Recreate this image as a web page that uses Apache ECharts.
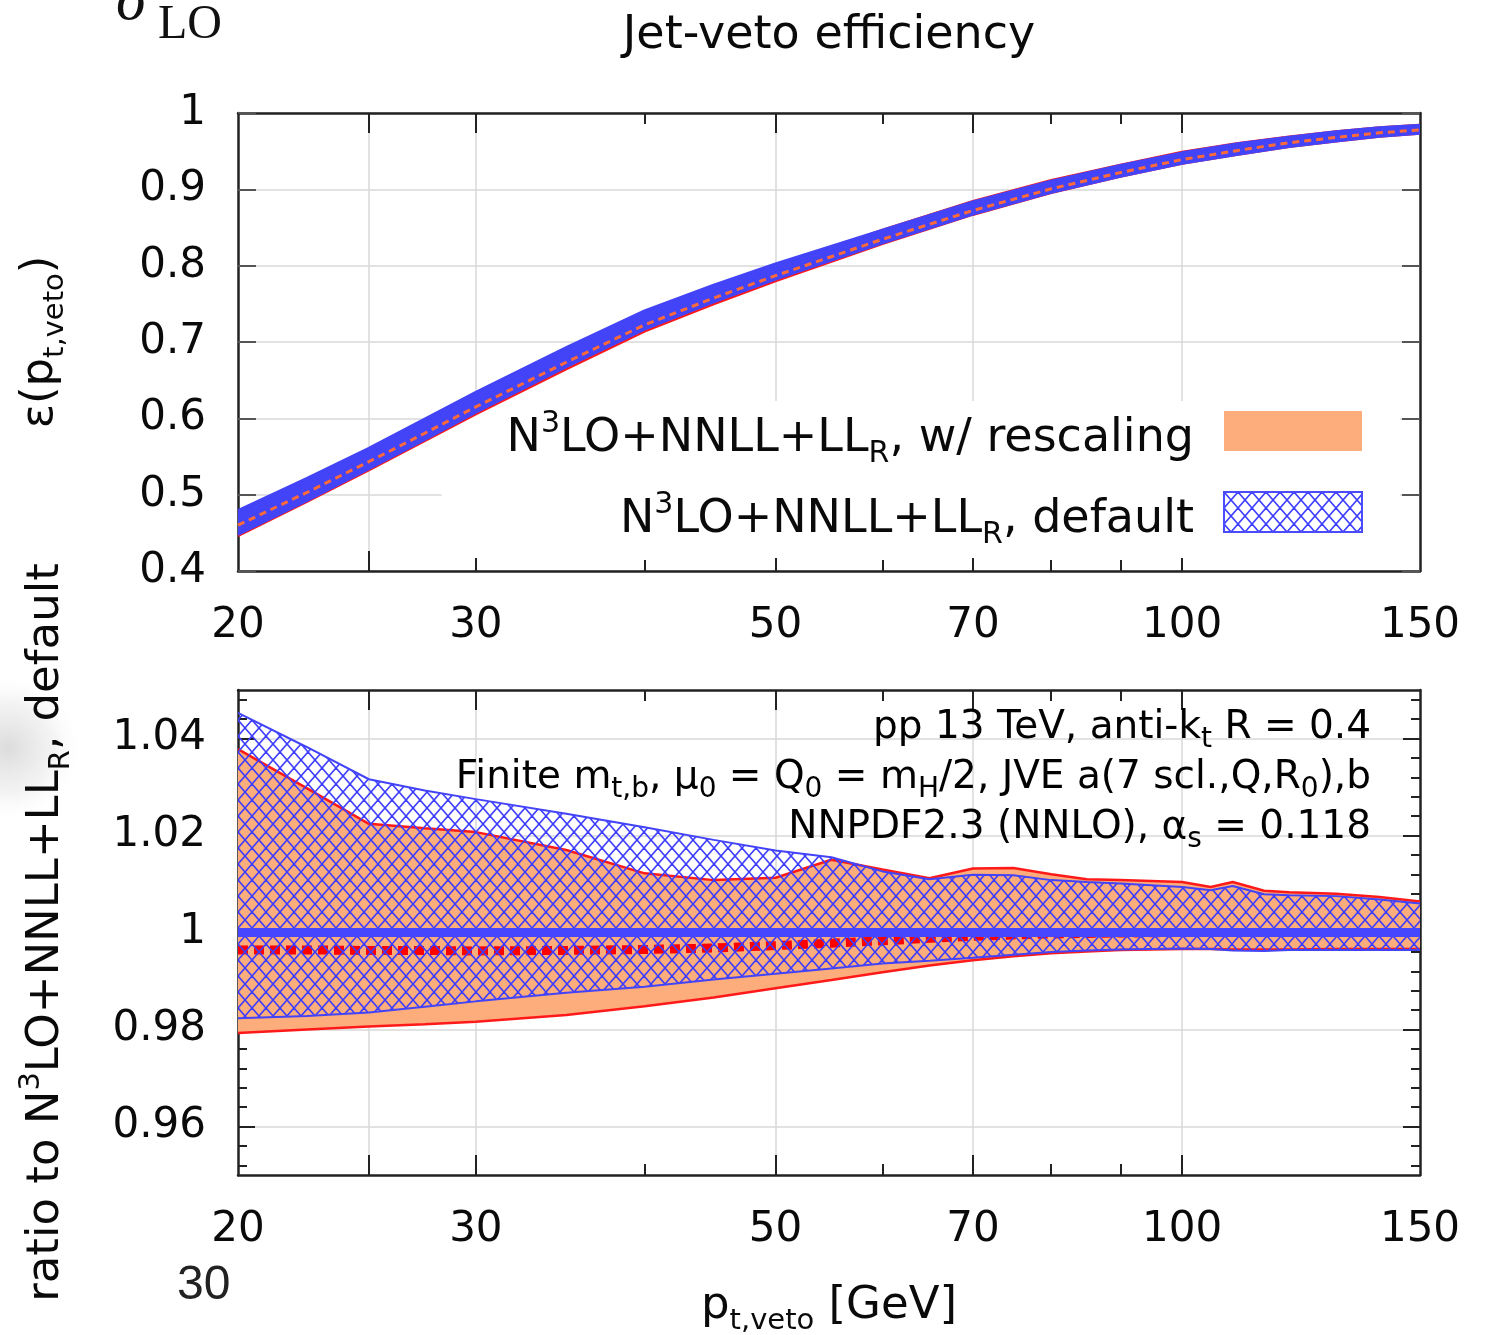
<!DOCTYPE html>
<html>
<head>
<meta charset="utf-8">
<script src="https://cdn.jsdelivr.net/npm/echarts@6/dist/echarts.min.js"></script>
<style>
  html, body { margin: 0; padding: 0; background: #ffffff; }
  #chart { width: 1498px; height: 1335px; }
</style>
</head>
<body>
<div id="chart"></div>
<script>
// ---- jet-veto efficiency, upper panel (pt,veto in GeV) ----
const ptEff = [20, 22.5, 25, 27.5, 30, 35, 40, 45, 50, 60, 70, 80, 90, 100, 110, 120, 130, 140, 150];
const effDefLow = [0.4480, 0.4925, 0.5340, 0.5725, 0.6080, 0.6676, 0.7169, 0.7526, 0.7823, 0.8300, 0.8675, 0.8960, 0.9172, 0.9342, 0.9460, 0.9560, 0.9632, 0.9694, 0.9735];
const effDefHigh = [0.4790, 0.5215, 0.5608, 0.5990, 0.6340, 0.6926, 0.7407, 0.7745, 0.8023, 0.8465, 0.8834, 0.9107, 0.9313, 0.9478, 0.9596, 0.9684, 0.9753, 0.9806, 0.9839];
const effResLow = [0.4460, 0.4908, 0.5322, 0.5705, 0.6056, 0.6645, 0.7140, 0.7498, 0.7799, 0.8285, 0.8668, 0.8955, 0.9168, 0.9338, 0.9457, 0.9557, 0.9630, 0.9692, 0.9733];
const effResHigh = [0.4763, 0.5179, 0.5562, 0.5945, 0.6298, 0.6875, 0.7338, 0.7682, 0.7979, 0.8469, 0.8845, 0.9118, 0.9320, 0.9488, 0.9605, 0.9690, 0.9757, 0.9811, 0.9843];
const effResCentral = [0.4600, 0.5030, 0.5432, 0.5805, 0.6150, 0.6735, 0.7225, 0.7576, 0.7869, 0.8346, 0.8723, 0.9007, 0.9219, 0.9390, 0.9510, 0.9610, 0.9680, 0.9740, 0.9780];

// ---- ratio to the default prediction, lower panel ----
const ptRatio = [20, 22.5, 25, 27.5, 30, 35, 40, 45, 50, 55, 60, 65, 70, 75, 80, 85, 90, 100, 105, 109, 115, 120, 130, 140, 150];
const ratioDefHigh = [1.0453, 1.0382, 1.0316, 1.0293, 1.0275, 1.0245, 1.0217, 1.0191, 1.0169, 1.0155, 1.0126, 1.0110, 1.0119, 1.0118, 1.0108, 1.0104, 1.0101, 1.0094, 1.0087, 1.0096, 1.0079, 1.0077, 1.0075, 1.0068, 1.0060];
const ratioDefLow = [0.9823, 0.9828, 0.9835, 0.9847, 0.9858, 0.9876, 0.9888, 0.9903, 0.9915, 0.9926, 0.9936, 0.9942, 0.9948, 0.9954, 0.9960, 0.9963, 0.9965, 0.9967, 0.9966, 0.9963, 0.9962, 0.9964, 0.9964, 0.9964, 0.9964];
const ratioDefCentral = [1, 1, 1, 1, 1, 1, 1, 1, 1, 1, 1, 1, 1, 1, 1, 1, 1, 1, 1, 1, 1, 1, 1, 1, 1];
const ratioResHigh = [1.0378, 1.0297, 1.0224, 1.0215, 1.0207, 1.0170, 1.0122, 1.0108, 1.0113, 1.0150, 1.0130, 1.0112, 1.0132, 1.0133, 1.0120, 1.0110, 1.0108, 1.0104, 1.0094, 1.0104, 1.0086, 1.0083, 1.0080, 1.0073, 1.0064];
const ratioResLow = [0.9793, 0.9800, 0.9806, 0.9811, 0.9816, 0.9830, 0.9848, 0.9866, 0.9885, 0.9902, 0.9918, 0.9932, 0.9943, 0.9951, 0.9957, 0.9961, 0.9964, 0.9966, 0.9966, 0.9965, 0.9965, 0.9965, 0.9966, 0.9966, 0.9966];
const ratioResCentral = [0.9964, 0.9964, 0.9963, 0.9963, 0.9962, 0.9963, 0.9965, 0.9968, 0.9973, 0.9978, 0.9983, 0.9988, 0.9992, 0.9995, 0.9997, 0.9998, 0.9999, 1.0000, 1.0000, 1.0000, 1.0000, 1.0000, 1.0000, 1.0000, 1.0000];

// ---- tick positions and labels ----
const xLabelValues = [20, 30, 50, 70, 100, 150];
const xMajorTicks = [25, 30, 50, 70, 100];
const xMinorTicks = [40, 60, 80, 90];
const ratioLabelValues = [0.96, 0.98, 1, 1.02, 1.04];
const ratioMinorTicks = [0.952, 0.956, 0.964, 0.968, 0.972, 0.976, 0.984, 0.988, 0.992, 0.996,
                         1.004, 1.008, 1.012, 1.016, 1.024, 1.028, 1.032, 1.036, 1.044, 1.048];

const NAME_RES = 'N3LO+NNLL+LLR, w/ rescaling';
const NAME_DEF = 'N3LO+NNLL+LLR, default';

// ---- styling ----
const FONT = '"DejaVu Sans", "Noto Sans", sans-serif';
const FRAME = '#222222';
const GRIDLINE = '#d8d8d8';
const ORANGE = '#fdac7b';
const RED = '#ff1a1a';
const BLUE = '#4343f8';

function richSet(size, color, subScale) {
  const s = subScale || 0.65;
  return {
    n:   { fontSize: size, fontFamily: FONT, color: color, lineHeight: Math.round(size * 1.3) },
    sup: { fontSize: Math.round(size * s), fontFamily: FONT, color: color, verticalAlign: 'top', lineHeight: Math.round(size * 0.78) },
    sub: { fontSize: Math.round(size * s), fontFamily: FONT, color: color, verticalAlign: 'bottom', lineHeight: Math.round(size * 0.62) }
  };
}

// diagonal cross-hatch used for the default band
function hatchCanvas(w, h, color, lw) {
  const c = document.createElement('canvas');
  c.width = w; c.height = h;
  const g = c.getContext('2d');
  g.strokeStyle = color;
  g.lineWidth = lw;
  for (const dx of [-w, 0, w]) {
    for (const dy of [-h, 0, h]) {
      g.beginPath(); g.moveTo(dx, dy); g.lineTo(dx + w, dy + h); g.stroke();
      g.beginPath(); g.moveTo(dx + w, dy); g.lineTo(dx, dy + h); g.stroke();
    }
  }
  return c;
}
const hatch = { type: 'pattern', image: hatchCanvas(14, 16, '#3d3dff', 1.6), repeat: 'repeat' };

// ---- axes ----
function xAxesFor(gridIndex, extra) {
  const base = { type: 'log', logBase: 10, min: 20, max: 150, gridIndex: gridIndex, silent: true };
  const tickStyle = { color: FRAME, width: 2 };
  return [
    Object.assign({}, base, {
      position: 'bottom',
      axisLine: { show: true, onZero: false, lineStyle: { color: FRAME, width: 2.5 } },
      axisTick: { show: true, inside: true, length: 20, customValues: xMajorTicks, lineStyle: tickStyle },
      axisLabel: { show: true, customValues: xLabelValues, margin: 34, color: '#0a0a0a', fontSize: 42, fontFamily: FONT },
      splitLine: { show: true, lineStyle: { color: GRIDLINE, width: 1.5 } }
    }, extra || {}),
    Object.assign({}, base, {
      position: 'bottom',
      axisLine: { show: false },
      axisTick: { show: true, inside: true, length: 11, customValues: xMinorTicks, lineStyle: tickStyle },
      axisLabel: { show: false },
      splitLine: { show: false }
    }),
    Object.assign({}, base, {
      position: 'top',
      axisLine: { show: true, onZero: false, lineStyle: { color: FRAME, width: 2.5 } },
      axisTick: { show: true, inside: true, length: 20, customValues: xMajorTicks, lineStyle: tickStyle },
      axisLabel: { show: false },
      splitLine: { show: false }
    }),
    Object.assign({}, base, {
      position: 'top',
      axisLine: { show: false },
      axisTick: { show: true, inside: true, length: 11, customValues: xMinorTicks, lineStyle: tickStyle },
      axisLabel: { show: false },
      splitLine: { show: false }
    })
  ];
}

const xAxes = xAxesFor(0).concat(xAxesFor(1, {
  name: '{n|p}{sub|t,veto}{n| [GeV]}',
  nameLocation: 'middle',
  nameGap: 102,
  nameTextStyle: { rich: richSet(45, '#0a0a0a') }
}));

const tickStyleY = { color: FRAME, width: 2 };
const yAxes = [
  // upper panel
  {
    type: 'value', gridIndex: 0, position: 'left', min: 0.4, max: 1, interval: 0.1, silent: true,
    axisLine: { show: true, onZero: false, lineStyle: { color: FRAME, width: 2.5 } },
    axisTick: { show: true, inside: true, length: 18, lineStyle: { color: '#555', width: 2 } },
    axisLabel: { show: true, margin: 32, color: '#0a0a0a', fontSize: 42, fontFamily: FONT },
    splitLine: { show: true, lineStyle: { color: GRIDLINE, width: 1.5 } },
    name: '{n|ε(p}{sub|t,veto}{n|)}',
    nameLocation: 'middle',
    nameGap: 168,
    nameTextStyle: { rich: richSet(45, '#0a0a0a') }
  },
  {
    type: 'value', gridIndex: 0, position: 'right', min: 0.4, max: 1, interval: 0.1, silent: true,
    axisLine: { show: true, onZero: false, lineStyle: { color: FRAME, width: 2.5 } },
    axisTick: { show: true, inside: true, length: 18, lineStyle: { color: '#555', width: 2 } },
    axisLabel: { show: false },
    splitLine: { show: false }
  },
  // lower panel
  {
    type: 'value', gridIndex: 1, position: 'left', min: 0.95, max: 1.05, silent: true,
    axisLine: { show: true, onZero: false, lineStyle: { color: FRAME, width: 2.5 } },
    axisTick: { show: true, inside: true, length: 17, customValues: ratioLabelValues, lineStyle: tickStyleY },
    axisLabel: { show: true, customValues: ratioLabelValues, margin: 32, color: '#0a0a0a', fontSize: 42, fontFamily: FONT },
    splitLine: { show: true, lineStyle: { color: GRIDLINE, width: 1.5 } },
    name: '{n|ratio to N}{sup|3}{n|LO+NNLL+LL}{sub|R}{n|, default}',
    nameLocation: 'middle',
    nameGap: 162,
    nameTextStyle: { rich: richSet(45, '#0a0a0a') }
  },
  {
    type: 'value', gridIndex: 1, position: 'left', min: 0.95, max: 1.05, silent: true,
    axisLine: { show: false },
    axisTick: { show: true, inside: true, length: 9, customValues: ratioMinorTicks, lineStyle: tickStyleY },
    axisLabel: { show: false },
    splitLine: { show: false }
  },
  {
    type: 'value', gridIndex: 1, position: 'right', min: 0.95, max: 1.05, silent: true,
    axisLine: { show: true, onZero: false, lineStyle: { color: FRAME, width: 2.5 } },
    axisTick: { show: true, inside: true, length: 17, customValues: ratioLabelValues, lineStyle: tickStyleY },
    axisLabel: { show: false },
    splitLine: { show: false }
  },
  {
    type: 'value', gridIndex: 1, position: 'right', min: 0.95, max: 1.05, silent: true,
    axisLine: { show: false },
    axisTick: { show: true, inside: true, length: 9, customValues: ratioMinorTicks, lineStyle: tickStyleY },
    axisLabel: { show: false },
    splitLine: { show: false }
  }
];

// ---- series builders ----
function band(name, xs, lo, hi, fill, xi, yi, z) {
  return {
    type: 'custom', name: name, xAxisIndex: xi, yAxisIndex: yi, z: z,
    silent: true, clip: true, animation: false,
    data: [[xs[0], lo[0]]],
    renderItem: function (params, api) {
      const pts = [];
      for (let i = 0; i < xs.length; i++) pts.push(api.coord([xs[i], hi[i]]));
      for (let i = xs.length - 1; i >= 0; i--) pts.push(api.coord([xs[i], lo[i]]));
      return { type: 'polygon', shape: { points: pts }, style: { fill: fill, stroke: null } };
    }
  };
}
function curve(name, xs, ys, color, width, dash, xi, yi, z) {
  return {
    type: 'line', name: name, xAxisIndex: xi, yAxisIndex: yi, z: z,
    data: xs.map(function (x, i) { return [x, ys[i]]; }),
    showSymbol: false, symbol: 'none', silent: true, animation: false, clip: true,
    lineStyle: { color: color, width: width, type: dash || 'solid', cap: 'butt' }
  };
}

const series = [
  // upper panel
  band(NAME_RES, ptEff, effResLow, effResHigh, ORANGE, 0, 0, 2),
  curve('res-low-eff', ptEff, effResLow, RED, 2.5, null, 0, 0, 3),
  curve('res-high-eff', ptEff, effResHigh, RED, 2.5, null, 0, 0, 3),
  band(NAME_DEF, ptEff, effDefLow, effDefHigh, BLUE, 0, 0, 4),
  curve('def-low-eff', ptEff, effDefLow, BLUE, 3, null, 0, 0, 5),
  curve('def-high-eff', ptEff, effDefHigh, BLUE, 3, null, 0, 0, 5),
  curve('res-mid-eff', ptEff, effResCentral, '#ff6a3a', 3, [7, 5], 0, 0, 6),

  // lower panel
  band(NAME_RES, ptRatio, ratioResLow, ratioResHigh, ORANGE, 4, 2, 2),
  curve('res-low', ptRatio, ratioResLow, RED, 2.5, null, 4, 2, 3),
  curve('res-high', ptRatio, ratioResHigh, RED, 2.5, null, 4, 2, 3),
  curve('res-mid', ptRatio, ratioResCentral, '#ff0000', 9, [10, 6], 4, 2, 3),
  band(NAME_DEF, ptRatio, ratioDefLow, ratioDefHigh, hatch, 4, 2, 4),
  curve('def-low', ptRatio, ratioDefLow, BLUE, 2, null, 4, 2, 5),
  curve('def-high', ptRatio, ratioDefHigh, BLUE, 2, null, 4, 2, 5),
  curve('def-mid', ptRatio, ratioDefCentral, '#4646ff', 9, null, 4, 2, 5)
];

const legendRich = richSet(46, '#0a0a0a');
legendRich.end = Object.assign({}, legendRich.n, { padding: [0, 25, 0, 0] });

const annRich = richSet(39, '#7a7a7a', 0.72);

const option = {
  animation: false,
  backgroundColor: '#ffffff',
  grid: [
    { left: 238, top: 113, width: 1182, height: 458, containLabel: false, outerBoundsMode: 'none' },
    { left: 238, top: 690, width: 1182, height: 485, containLabel: false, outerBoundsMode: 'none' }
  ],
  xAxis: xAxes,
  yAxis: yAxes,
  legend: {
    orient: 'vertical',
    right: 98,
    top: 401,
    align: 'right',
    z: 1,
    selectedMode: false,
    backgroundColor: '#ffffff',
    padding: [8, 37, 8, 65],
    itemWidth: 138,
    itemHeight: 40,
    itemGap: 21,
    textStyle: { color: '#0a0a0a', fontFamily: FONT, fontSize: 46, rich: legendRich, padding: [16, 0, 0, 0] },
    formatter: function (name) {
      return name === NAME_RES
        ? '{n|N}{sup|3}{n|LO+NNLL+LL}{sub|R}{end|, w/ rescaling}'
        : '{n|N}{sup|3}{n|LO+NNLL+LL}{sub|R}{end|, default}';
    },
    data: [
      { name: NAME_RES, icon: 'rect', itemStyle: { color: ORANGE, borderWidth: 0 } },
      { name: NAME_DEF, icon: 'rect', itemStyle: { color: hatch, borderColor: '#4a4aff', borderWidth: 2 } }
    ]
  },
  graphic: [
    {
      type: 'circle', z: -10, silent: true,
      shape: { cx: 8, cy: 748, r: 75 },
      style: {
        fill: {
          type: 'radial', x: 0.5, y: 0.5, r: 0.5,
          colorStops: [
            { offset: 0, color: 'rgba(190,190,190,0.55)' },
            { offset: 0.6, color: 'rgba(215,215,215,0.3)' },
            { offset: 1, color: 'rgba(255,255,255,0)' }
          ]
        }
      }
    },
    {
      type: 'text', silent: true, x: 829, y: 36,
      style: { text: 'Jet-veto efficiency', font: '46px "DejaVu Sans"', fill: '#0a0a0a',
               align: 'center', verticalAlign: 'middle', textAlign: 'center', textVerticalAlign: 'middle' }
    },
    {
      type: 'text', silent: true, x: 116, y: 34,
      style: { text: 'σ', font: 'italic 62px "Liberation Serif"', fill: '#111',
               align: 'left', verticalAlign: 'bottom', textAlign: 'left', textVerticalAlign: 'bottom' }
    },
    {
      type: 'text', silent: true, x: 158, y: 49,
      style: { text: 'LO', font: '48px "Liberation Serif"', fill: '#111',
               align: 'left', verticalAlign: 'bottom', textAlign: 'left', textVerticalAlign: 'bottom' }
    },
    {
      type: 'text', silent: true, x: 177, y: 1310,
      style: { text: '30', font: '48px "Liberation Sans"', fill: '#222',
               align: 'left', verticalAlign: 'bottom', textAlign: 'left', textVerticalAlign: 'bottom' }
    },
    {
      type: 'text', silent: true, x: 1371, y: 728, z: 20,
      style: { text: '{n|pp 13 TeV, anti-k}{sub|t}{n| R = 0.4}', rich: annRich,
               align: 'right', verticalAlign: 'middle', textAlign: 'right', textVerticalAlign: 'middle' }
    },
    {
      type: 'text', silent: true, x: 1371, y: 778, z: 20,
      style: { text: '{n|Finite m}{sub|t,b}{n|, μ}{sub|0}{n| = Q}{sub|0}{n| = m}{sub|H}{n|/2, JVE a(7 scl.,Q,R}{sub|0}{n|),b}', rich: annRich,
               align: 'right', verticalAlign: 'middle', textAlign: 'right', textVerticalAlign: 'middle' }
    },
    {
      type: 'text', silent: true, x: 1371, y: 828, z: 20,
      style: { text: '{n|NNPDF2.3 (NNLO), α}{sub|s}{n| = 0.118}', rich: annRich,
               align: 'right', verticalAlign: 'middle', textAlign: 'right', textVerticalAlign: 'middle' }
    }
  ],
  series: series
};

const chart = echarts.init(document.getElementById('chart'), null, { renderer: 'canvas' });
chart.setOption(option);
</script>
</body>
</html>
